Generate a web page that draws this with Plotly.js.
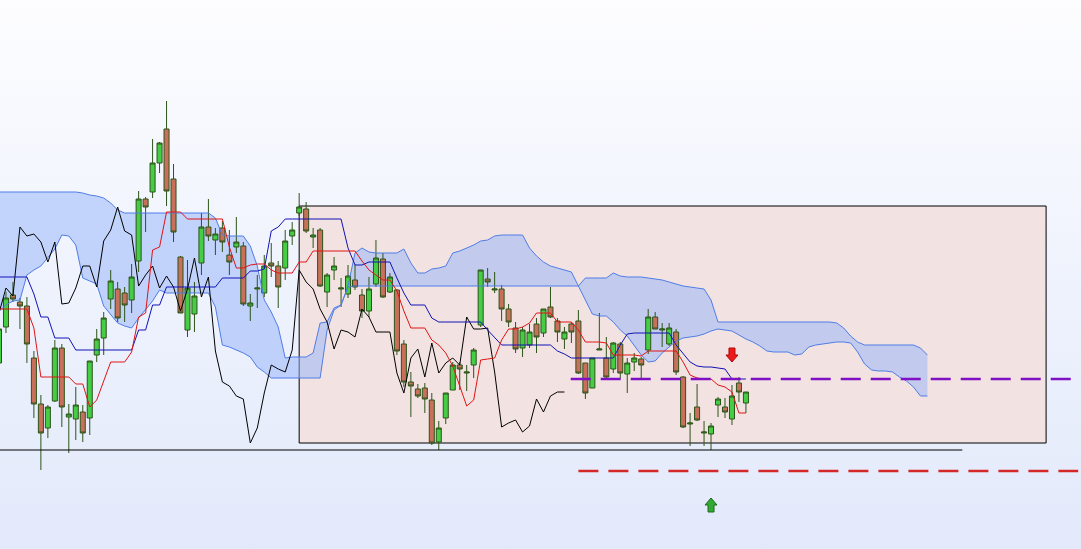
<!DOCTYPE html>
<html>
<head>
<meta charset="utf-8">
<script src="https://cdn.plot.ly/plotly-3.0.1.min.js"></script>
<style>
  html, body { margin: 0; padding: 0; }
  body { width: 1081px; height: 549px; overflow: hidden;
         background: linear-gradient(to bottom, #fdfdff 0%, #eef2fd 55%, #e3e9fb 100%); }
  #chart { width: 1081px; height: 549px; }
</style>
</head>
<body>
<div id="chart"></div>
<script>
// Daily candles (bar index 0..107)
const opens  = [186,222,254,247,243,191,145,121,148,201,132,130,137,131,194,211,250,260,256,249,
                288,350,357,386,420,370,292,219,235,286,322,309,321,294,302,303,243,260,256,286,
                283,281,313,336,340,312,319,257,279,260,255,269,254,238,265,290,257,259,205,167,
                160,161,149,107,131,159,184,176,184,224,270,259,260,240,221,201,204,225,216,242,
                228,210,225,228,186,161,199,191,180,205,175,187,190,199,232,219,205,217,172,125,
                142,116,115,144,142,130,166,146];
const highs  = [224,257,267,251,252,198,154,144,209,205,145,162,144,188,220,237,279,267,262,285,
                358,352,410,407,448,385,293,289,267,336,350,321,328,319,332,307,255,274,294,306,
                288,319,327,356,347,321,321,276,292,271,284,284,260,272,309,296,276,260,209,177,
                165,166,156,128,156,187,187,184,201,279,281,277,264,245,227,222,225,231,240,262,
                231,222,227,239,186,191,236,212,207,207,191,196,192,240,237,226,226,220,173,136,
                165,128,126,152,151,164,172,157];
const lows   = [183,216,247,220,186,131, 79,111,147,122, 96,109,107,114,187,194,240,227,227,236,
                277,317,351,376,343,307,236,212,217,274,308,294,297,274,296,243,228,241,252,272,
                241,269,304,333,316,301,262,242,269,242,251,259,231,232,262,251,256,194,162,132,
                151,136,104, 99,125,159,159,158,171,222,262,256,228,222,196,192,201,196,212,231,
                207,200,206,175,150,161,199,169,176,171,156,178,169,195,220,202,203,174,121,103,
                128,103, 99,132,131,124,147,136];
const closes = [220,251,250,243,205,145,116,142,201,142,135,144,116,188,210,231,268,231,244,272,
                350,342,386,406,358,317,236,261,253,322,313,315,307,287,307,245,246,261,283,283,
                262,308,319,342,318,314,263,274,283,261,273,262,238,260,291,252,272,198,167,163,
                153,150,106,121,156,184,180,177,199,279,267,260,240,227,200,219,217,212,240,232,
                217,217,217,176,156,191,200,172,206,176,186,191,184,232,220,220,221,177,122,126,
                129,117,123,150,137,153,157,157];

// Ichimoku: conversion line (9) and base line (26)
const tenkan = [240,240,240,240,240,221,172,172,172,172,172,165,165,142,149,168,187,187,187,197,
                232,236,299,302,337,337,337,330,330,330,330,330,330,302,281,281,284,285,285,279,
                276,276,276,287,287,298,298,298,298,298,298,298,288,279,274,269,269,258,238,221,
                221,221,209,204,196,183,163,143,149,189,190,191,209,220,220,222,226,236,236,236,
                227,227,227,219,207,207,207,206,194,194,194,194,193,198,198,198,198,198,187,174,
                171,170,170,164,162,157,136,136];
const kijun  = [272,272,272,272,272,255,232,232,211,211,211,199,199,199,199,199,199,199,199,199,
                219,219,244,244,262,262,262,262,262,262,262,262,271,271,271,271,278,278,280,318,
                322,330,330,330,330,330,330,330,330,330,301,284,284,287,287,287,287,271,256,244,
                244,244,231,227,227,227,227,227,227,227,219,211,204,204,204,204,204,204,204,204,
                198,195,191,191,191,191,191,191,191,204,215,216,216,216,216,216,216,204,196,187,
                183,182,182,181,180,170,170,170];

// Leading spans, already displaced 26 bars forward (index 0..133)
const cloudUpper = [357,357,357,357,357,357,357,357,357,357,357,357,356,354,353,351,346,339,336,336,
                    336,336,336,336,336,336,336,336,336,336,336,331,314,313,313,313,303,283,249,237,
                    222,191,192,192,192,196,226,227,241,244,263,296,301,297,296,296,296,296,300,286,
                    276,276,280,281,283,296,298,301,304,308,309,313,314,314,314,314,301,293,287,283,
                    281,279,277,263,271,271,271,271,276,273,272,272,272,271,270,269,267,265,263,262,
                    261,260,249,227,227,227,227,227,227,227,227,227,227,227,227,227,227,227,227,227,
                    226,221,213,207,204,204,204,204,204,204,204,204,201,194];
const cloudLower = [238,244,248,249,274,279,283,292,300,314,313,304,271,268,265,243,234,226,223,221,
                    231,239,248,259,256,256,256,256,256,256,256,242,204,202,199,196,192,182,177,171,
                    171,171,171,171,171,171,171,219,239,244,262,263,263,263,263,263,263,263,263,263,
                    263,263,263,263,263,263,263,263,263,263,263,263,263,263,263,263,263,263,263,263,
                    263,263,263,263,249,235,233,233,227,219,213,203,194,187,188,196,202,208,211,212,
                    213,215,218,220,219,218,214,210,207,203,198,197,197,197,194,195,202,204,205,206,
                    207,207,206,197,185,179,178,178,177,172,168,162,153,153];
const displacement = 26;

// Marked price levels
const supportLevel = 99;
const resistanceLevel = 170;
const targetLevel = 78;
const rangeBox = {start: 43, end: 150, low: 106, high: 343};
const sellSignal = {bar: 105, price: 194};
const buySignal = {bar: 102, price: 44};

const bars = closes.map((_, i) => i);
const cloudX = cloudUpper.map((_, i) => i);
const laggingX = closes.slice(displacement).map((_, k) => k);
const laggingY = closes.slice(displacement);

// Kumo area as a data-space polygon so it sits underneath the candles
const cloudPath = 'M ' + cloudX.map(i => i + ',' + cloudUpper[i]).join(' L ') +
  ' L ' + cloudX.slice().reverse().map(i => i + ',' + cloudLower[i]).join(' L ') + ' Z';

const wickColor = '#2c5418';
const traces = [
  {type: 'candlestick', x: bars, open: opens, high: highs, low: lows, close: closes,
   increasing: {line: {color: wickColor, width: 1}, fillcolor: '#46cd46'},
   decreasing: {line: {color: wickColor, width: 1}, fillcolor: '#c8705c'},
   whiskerwidth: 0, hoverinfo: 'skip'},
  {type: 'scatter', mode: 'lines', x: cloudX, y: cloudLower,
   line: {color: '#4f7de6', width: 1}, hoverinfo: 'skip'},
  {type: 'scatter', mode: 'lines', x: cloudX, y: cloudUpper,
   line: {color: '#4f7de6', width: 1}, hoverinfo: 'skip'},
  {type: 'scatter', mode: 'lines', x: laggingX, y: laggingY,
   line: {color: '#000000', width: 1}, hoverinfo: 'skip'},
  {type: 'scatter', mode: 'lines', x: bars, y: kijun,
   line: {color: '#1212b4', width: 1}, hoverinfo: 'skip'},
  {type: 'scatter', mode: 'lines', x: bars, y: tenkan,
   line: {color: '#e01414', width: 1}, hoverinfo: 'skip'}
];

const shapes = [
  {type: 'rect', layer: 'below', xref: 'x', yref: 'y',
   x0: rangeBox.start, x1: rangeBox.end, y0: rangeBox.low, y1: rangeBox.high,
   fillcolor: '#f2e3e2', line: {color: '#000000', width: 1}},
  {type: 'path', layer: 'below', xref: 'x', yref: 'y', path: cloudPath,
   fillcolor: 'rgba(150,180,250,0.52)', line: {width: 0}},
  {type: 'line', xref: 'x', yref: 'y', x0: 0, x1: 138, y0: supportLevel, y1: supportLevel,
   line: {color: '#000000', width: 1}},
  {type: 'line', xref: 'x', yref: 'y', x0: 81.9, x1: 153.7, y0: resistanceLevel, y1: resistanceLevel,
   line: {color: '#8010c4', width: 2.6, dash: '20px,10px'}},
  {type: 'line', xref: 'x', yref: 'y', x0: 83, x1: 154.6, y0: targetLevel, y1: targetLevel,
   line: {color: '#d42828', width: 2.6, dash: '20px,10px'}},
  // down arrow above the last bars
  {type: 'path', xref: 'x', yref: 'y', xsizemode: 'pixel', ysizemode: 'pixel',
   xanchor: sellSignal.bar, yanchor: sellSignal.price,
   path: 'M -3 7 L 3 7 L 3 0 L 6 0 L 0 -7 L -6 0 L -3 0 Z',
   fillcolor: '#ec1a1a', line: {color: '#b00808', width: 1}},
  // up arrow below the lows
  {type: 'path', xref: 'x', yref: 'y', xsizemode: 'pixel', ysizemode: 'pixel',
   xanchor: buySignal.bar, yanchor: buySignal.price,
   path: 'M 0 7 L 6 0 L 3 0 L 3 -7 L -3 -7 L -3 0 L -6 0 Z',
   fillcolor: '#34a834', line: {color: '#1c6c1c', width: 1}}
];

const layout = {
  width: 1081, height: 549,
  margin: {l: 0, r: 0, t: 0, b: 0, pad: 0},
  paper_bgcolor: 'rgba(0,0,0,0)', plot_bgcolor: 'rgba(0,0,0,0)',
  showlegend: false, hovermode: false,
  boxgap: 0.28, boxgroupgap: 0,
  xaxis: {range: [0.143, 155.0], visible: false, showgrid: false, zeroline: false,
          rangeslider: {visible: false}, fixedrange: true},
  yaxis: {range: [0, 549], visible: false, showgrid: false, zeroline: false, fixedrange: true},
  shapes: shapes
};

Plotly.newPlot('chart', traces, layout, {staticPlot: true, displayModeBar: false});
</script>
</body>
</html>
